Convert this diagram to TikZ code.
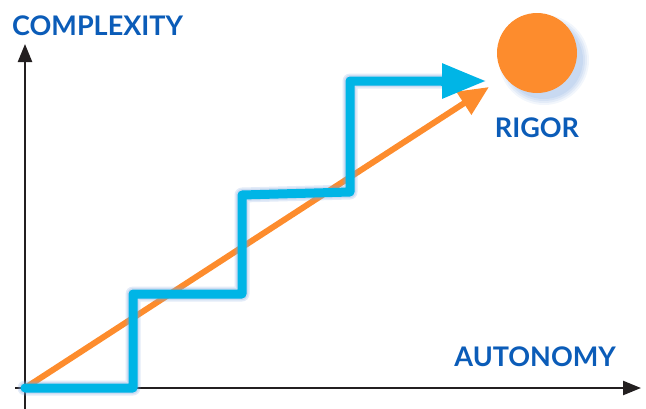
\documentclass[tikz,border=0pt]{standalone}
\usepackage{fontspec}
\setmainfont{Lato}
\usetikzlibrary{arrows.meta}
\definecolor{stepblue}{HTML}{00B5E6}
\definecolor{orng}{HTML}{FD8C2D}
\definecolor{txtblue}{HTML}{0B5CB8}
\definecolor{shad}{HTML}{7FA6DE}
\definecolor{axisc}{HTML}{231F20}
\tikzset{
  lbl/.style={text=txtblue, font=\fontsize{27}{27}\selectfont\bfseries, inner sep=0pt},
  axisline/.style={draw=axisc, line width=2.4pt, -{Triangle[length=18pt,width=14pt]}},
  stepline/.style={draw=stepblue, line width=9pt, line join=round, line cap=round},
  trendline/.style={draw=orng, line width=6pt, -{Triangle[length=30pt,width=26pt]}},
  shadowline/.style={draw=shad, line join=round, line cap=round, opacity=0.22},
}
\begin{document}
\begin{tikzpicture}[x=1pt,y=-1pt]
\useasboundingbox (0,0) rectangle (646,408);
% coordinates
\coordinate (xs) at (15,388);
\coordinate (xe) at (641,388);
\coordinate (ys) at (25,410);
\coordinate (ye) at (25,44);
\coordinate (o) at (25,388);
\coordinate (a) at (133,388);
\coordinate (b) at (133,294);
\coordinate (c) at (242,294);
\coordinate (d) at (242,195);
\coordinate (e) at (350,192);
\coordinate (f) at (350,81);
\coordinate (g) at (486,81);
\coordinate (ot) at (489,87);
% axes
\draw[axisline] (xs) -- (xe);
\draw[axisline] (ys) -- (ye);
% labels
\node[lbl, anchor=base west] (cx) at (12,35) {COMPLEXITY};
\node[lbl, anchor=base east] (au) at (616,366) {AUTONOMY};
\node[lbl, anchor=base] (rg) at (537,137) {RIGOR};
% circle shadow
\foreach \r/\op in {45/0.10,43/0.12,41/0.14,39/0.16}{
  \fill[shad, opacity=\op] (544,60) circle (\r pt);
}
\node[circle, fill=orng, minimum size=80pt, inner sep=0pt] (rigor) at (537,53) {};
% trend line
\draw[trendline] (o) -- (ot);
% step line shadow
\foreach \w in {15,12,9}{
  \draw[shadowline, line width=\w pt, shift={(6,8)}] (o) -- (a) -- (b) -- (c) -- (d) -- (e) -- (f) -- ([xshift=-44pt]g);
}
\fill[shad, opacity=0.35, shift={(6,8)}] ([xshift=-44pt,yshift=-17pt]g) -- (g) -- ([xshift=-44pt,yshift=17pt]g) -- cycle;
% step line
\draw[stepline] (o) -- (a) -- (b) -- (c) -- (d) -- (e) -- (f) -- ([xshift=-40pt]g);
\draw[draw=stepblue, line width=9pt, -{Triangle[length=44pt,width=33pt]}] ([xshift=-45pt]g) -- (g);
\end{tikzpicture}
\end{document}
